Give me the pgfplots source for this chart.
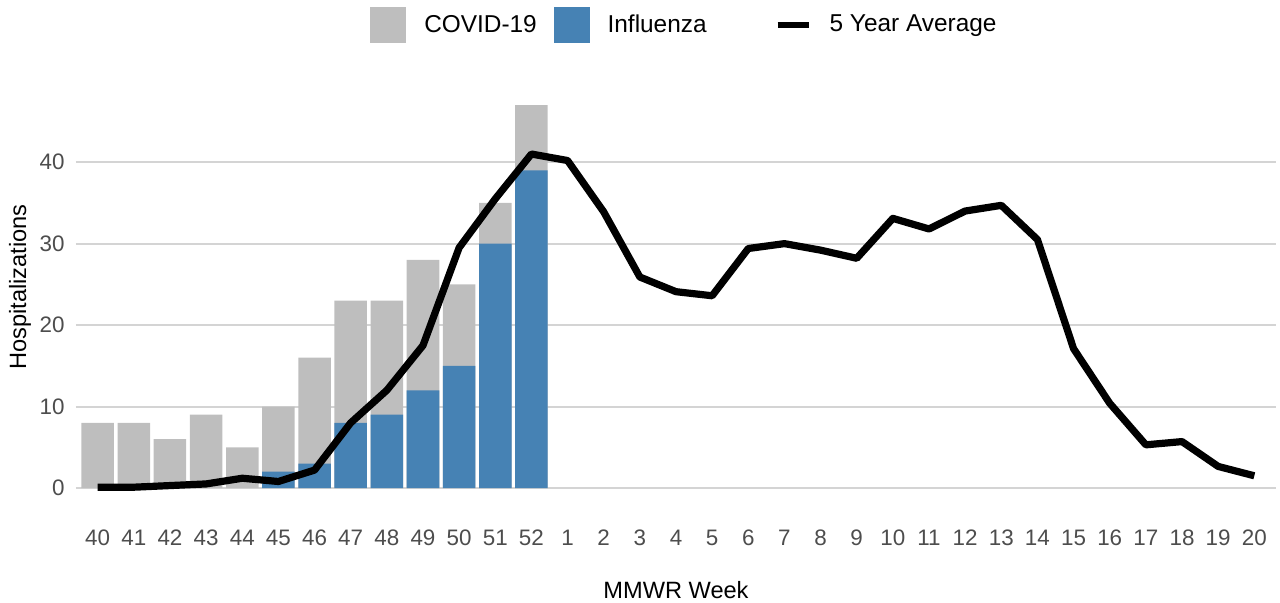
\documentclass[border=0pt]{standalone}
\usepackage{pgfplots}
\pgfplotsset{compat=1.18}
\usepackage{fontspec}
\setmainfont{Liberation Sans}
\definecolor{covid}{RGB}{190,190,190}
\definecolor{flu}{RGB}{70,130,180}
\definecolor{gridc}{RGB}{212,212,212}
\definecolor{tickc}{RGB}{77,77,77}
\begin{document}
\begin{tikzpicture}
\begin{axis}[
  name=ax,
  scale only axis,
  width=600pt, height=201pt,
  xmin=-0.6, xmax=32.6,
  ymin=0, ymax=49.35,
  xtick={0,...,32},
  xticklabels={40,41,42,43,44,45,46,47,48,49,50,51,52,1,2,3,4,5,6,7,8,9,10,11,12,13,14,15,16,17,18,19,20},
  ytick={0,10,20,30,40},
  ymajorgrids,
  grid style={gridc, line width=1pt},
  axis line style={draw=none},
  major tick style={draw=none},
  tick label style={font=\fontsize{11.2}{13}\selectfont, text=tickc},
  /pgf/number format/assume math mode=true,
  xticklabel style={anchor=base, inner sep=0pt, yshift=-28.5pt},
  yticklabel style={anchor=east, inner sep=0pt, xshift=-5.5pt},
  xlabel={MMWR Week},
  ylabel={Hospitalizations},
  label style={font=\fontsize{11.8}{14}\selectfont},
  xlabel style={at={(axis description cs:0.5,0)}, anchor=base, yshift=-55pt},
  ylabel style={at={(axis description cs:-0.0467,0.5)}, anchor=center},
  clip=false,
  legend columns=3,
  legend style={at={(0.5,1)}, anchor=center, xshift=3.75pt, yshift=30.5pt,
    draw=none, fill=none, font=\fontsize{12.2}{14}\selectfont,
    nodes={inner sep=0pt},
    /tikz/every odd column/.append style={column sep=9pt},
    /tikz/every even column/.append style={column sep=8.5pt}},
]
\addlegendimage{legend image code/.code={\fill[covid] (0pt,-8.75pt) rectangle (17.5pt,8.75pt);}}
\addlegendentry{COVID-19}
\addlegendimage{legend image code/.code={\fill[flu] (0pt,-8.75pt) rectangle (17.5pt,8.75pt);}}
\addlegendentry{Influenza\rule{25.5pt}{0pt}}
\addlegendimage{legend image code/.code={\draw[black, line width=3pt] (1pt,0pt) -- (16.5pt,0pt);}}
\addlegendentry{5 Year Average}

% totals (COVID-19 + Influenza)
\addplot[forget plot, ybar, bar width=0.9, bar shift=0pt, fill=covid, draw=none]
coordinates {(0,8) (1,8) (2,6) (3,9) (4,5) (5,10) (6,16) (7,23) (8,23) (9,28) (10,25) (11,35) (12,47)};
% Influenza
\addplot[forget plot, ybar, bar width=0.9, bar shift=0pt, fill=flu, draw=none]
coordinates {(5,2) (6,3) (7,8) (8,9) (9,12) (10,15) (11,30) (12,39)};
% 5 year average
\addplot[forget plot, black, line width=3.6pt, line join=round, mark=none]
coordinates {(0,0.1) (1,0.1) (2,0.3) (3,0.5) (4,1.2) (5,0.8) (6,2.2) (7,8.0) (8,12.0) (9,17.5) (10,29.5) (11,35.5) (12,41.0)
(13,40.2) (14,33.9) (15,25.9) (16,24.1) (17,23.6) (18,29.4) (19,30.0) (20,29.2) (21,28.2) (22,33.1) (23,31.8) (24,34.0) (25,34.7) (26,30.5) (27,17.1) (28,10.4) (29,5.3) (30,5.7) (31,2.65) (32,1.5)};
\end{axis}
\pgfresetboundingbox
\path[use as bounding box] ([xshift=-38pt,yshift=-57pt]ax.south west) rectangle ([xshift=2pt,yshift=43pt]ax.north east);
\end{tikzpicture}
\end{document}
